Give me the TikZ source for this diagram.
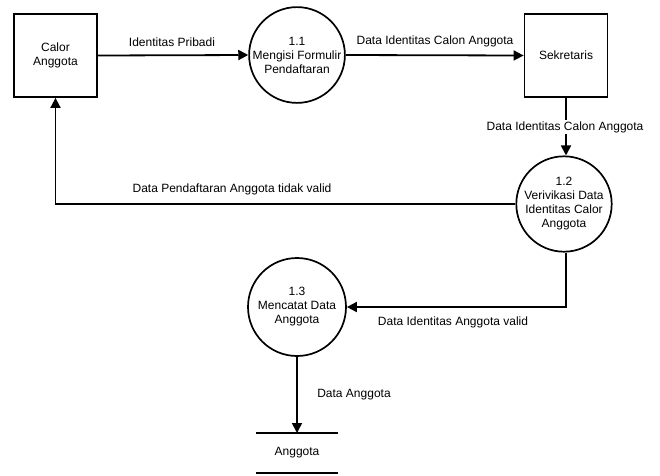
\documentclass[tikz,border=0pt]{standalone}
\usepackage{fontspec}
\setmainfont{Liberation Sans}
\usetikzlibrary{arrows.meta}
\begin{document}
\begin{tikzpicture}[x=1pt,y=-1pt,
  every node/.style={font=\fontsize{12}{14}\selectfont},
  entity/.style={draw,line width=1.8pt,minimum width=83pt,minimum height=83pt,align=center,inner sep=2pt},
  proc/.style={draw,circle,line width=1.7pt,minimum size=#1,align=center,inner sep=0pt},
  flow/.style={line width=1.8pt,-{Triangle[length=10pt,width=10pt]}},
  lbl/.style={fill=white,inner sep=1pt}]
\useasboundingbox (0,0) rectangle (660,475);
\node[entity] (ca) at (55.5,55.5) {Calor\\Anggota};
\node[entity] (sk) at (566,55.5) {Sekretaris};
\node[proc=94pt] (p1) at (297,55) {1.1\\Mengisi Formulir\\Pendaftaran};
\node[proc=94pt] (p2) at (564,204) {1.2\\Verivikasi Data\\Identitas Calor\\Anggota};
\node[proc=98pt] (p3) at (297,307) {1.3\\Mencatat Data\\Anggota};
% data store
\coordinate (s1) at (256,433);
\coordinate (s2) at (338,433);
\coordinate (s3) at (256,473);
\coordinate (s4) at (338,473);
\draw[line width=2.4pt] (s1) -- (s2);
\draw[line width=1.8pt] (s3) -- (s4);
\node (st) at (297,453) {Anggota};
\coordinate (stTop) at (297,433);
% flows
\draw[flow] (ca.east) -- (p1.west);
\node at (172,42) {Identitas Pribadi};
\draw[flow] (p1.east) -- (sk.west);
\node at (435,41) {Data Identitas Calon Anggota};
\draw[flow] (sk.south) -- (sk.south |- p2.north);
\node[lbl] at (565,127) {Data Identitas Calon Anggota};
\coordinate (c1) at (55.5,204);
\draw[flow] (p2.west) -- (c1) -- (ca.south);
\node at (232,189) {Data Pendaftaran Anggota tidak valid};
\coordinate (c2) at (566,307);
\draw[flow] (p2.south -| c2) -- (c2) -- (p3.east);
\node at (453,322) {Data Identitas Anggota valid};
\draw[flow] (p3.south) -- (stTop);
\node at (354,395) {Data Anggota};
\end{tikzpicture}
\end{document}
